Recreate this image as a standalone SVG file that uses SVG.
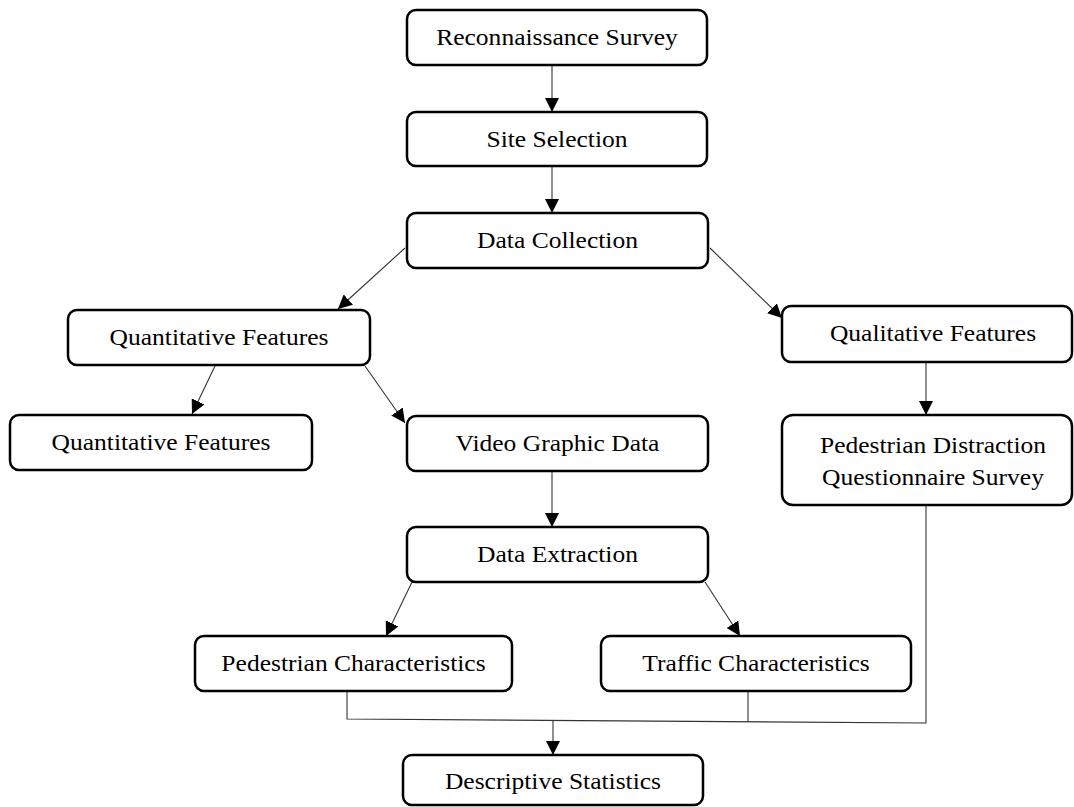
<svg xmlns="http://www.w3.org/2000/svg" width="1074" height="807" viewBox="0 0 1074 807">
  <style>
    .box { fill: #ffffff; stroke: #000000; stroke-width: 2.5; }
    .lbl { font-family: "Liberation Serif", "Times New Roman", serif; font-size: 23px; fill: #000000; text-anchor: middle; }
    .edge { fill: none; stroke: #333333; stroke-width: 1.1; }
    .arrow { marker-end: url(#head); }
  </style>
  <defs>
    <marker id="head" markerUnits="userSpaceOnUse" markerWidth="14" markerHeight="14" viewBox="0 0 12 12" refX="12" refY="6" orient="auto">
      <path d="M0,0 L12,6 L0,12 Z" fill="#000000"/>
    </marker>
  </defs>

  <rect width="1074" height="807" fill="#ffffff"/>

  <!-- connectors -->
  <g id="connectors">
    <line class="edge arrow" x1="552" y1="65" x2="552" y2="112"/>
    <line class="edge arrow" x1="552" y1="166" x2="552" y2="213"/>
    <line class="edge arrow" x1="405" y1="248" x2="338" y2="309"/>
    <line class="edge arrow" x1="710" y1="248" x2="782" y2="318"/>
    <line class="edge arrow" x1="215" y1="366" x2="192" y2="414"/>
    <line class="edge arrow" x1="365" y1="366" x2="405" y2="423"/>
    <line class="edge arrow" x1="926" y1="362" x2="926" y2="415"/>
    <line class="edge arrow" x1="552" y1="471" x2="552" y2="527"/>
    <line class="edge arrow" x1="412" y1="582" x2="386" y2="636"/>
    <line class="edge arrow" x1="705" y1="582" x2="740" y2="636"/>
    <polyline class="edge" points="347,691 347,719 926,723 926,505"/>
    <line class="edge" x1="748" y1="691" x2="748" y2="722"/>
    <line class="edge arrow" x1="553" y1="721" x2="553" y2="755"/>
  </g>

  <!-- nodes -->
  <g id="reconnaissance">
    <rect class="box" x="407" y="10" width="300" height="55" rx="9"/>
    <text class="lbl" transform="translate(557,45) scale(1.11,1)">Reconnaissance Survey</text>
  </g>
  <g id="site-selection">
    <rect class="box" x="407" y="112" width="300" height="54" rx="9"/>
    <text class="lbl" transform="translate(557,146.5) scale(1.11,1)">Site Selection</text>
  </g>
  <g id="data-collection">
    <rect class="box" x="407" y="213" width="301" height="55" rx="9"/>
    <text class="lbl" transform="translate(557.5,248) scale(1.11,1)">Data Collection</text>
  </g>
  <g id="quantitative-features">
    <rect class="box" x="68" y="310" width="302" height="55" rx="9"/>
    <text class="lbl" transform="translate(219,345) scale(1.11,1)">Quantitative Features</text>
  </g>
  <g id="quantitative-features-2">
    <rect class="box" x="10" y="415" width="302" height="55" rx="9"/>
    <text class="lbl" transform="translate(161,450) scale(1.11,1)">Quantitative Features</text>
  </g>
  <g id="qualitative-features">
    <rect class="box" x="782" y="306" width="290" height="56" rx="9"/>
    <text class="lbl" transform="translate(933,340.5) scale(1.11,1)">Qualitative Features</text>
  </g>
  <g id="video-graphic-data">
    <rect class="box" x="407" y="416" width="301" height="55" rx="9"/>
    <text class="lbl" transform="translate(557.5,451) scale(1.11,1)">Video Graphic Data</text>
  </g>
  <g id="questionnaire-survey">
    <rect class="box" x="782" y="415" width="290" height="90" rx="11"/>
    <text class="lbl" transform="translate(933,453) scale(1.11,1)">Pedestrian Distraction</text>
    <text class="lbl" transform="translate(933,485) scale(1.11,1)">Questionnaire Survey</text>
  </g>
  <g id="data-extraction">
    <rect class="box" x="407" y="527" width="301" height="55" rx="9"/>
    <text class="lbl" transform="translate(557.5,562) scale(1.11,1)">Data Extraction</text>
  </g>
  <g id="pedestrian-characteristics">
    <rect class="box" x="195" y="636" width="317" height="55" rx="9"/>
    <text class="lbl" transform="translate(353.5,671) scale(1.11,1)">Pedestrian Characteristics</text>
  </g>
  <g id="traffic-characteristics">
    <rect class="box" x="601" y="636" width="310" height="55" rx="9"/>
    <text class="lbl" transform="translate(756,671) scale(1.11,1)">Traffic Characteristics</text>
  </g>
  <g id="descriptive-statistics">
    <rect class="box" x="403" y="755" width="300" height="50" rx="9"/>
    <text class="lbl" transform="translate(553,789) scale(1.11,1)">Descriptive Statistics</text>
  </g>
</svg>
